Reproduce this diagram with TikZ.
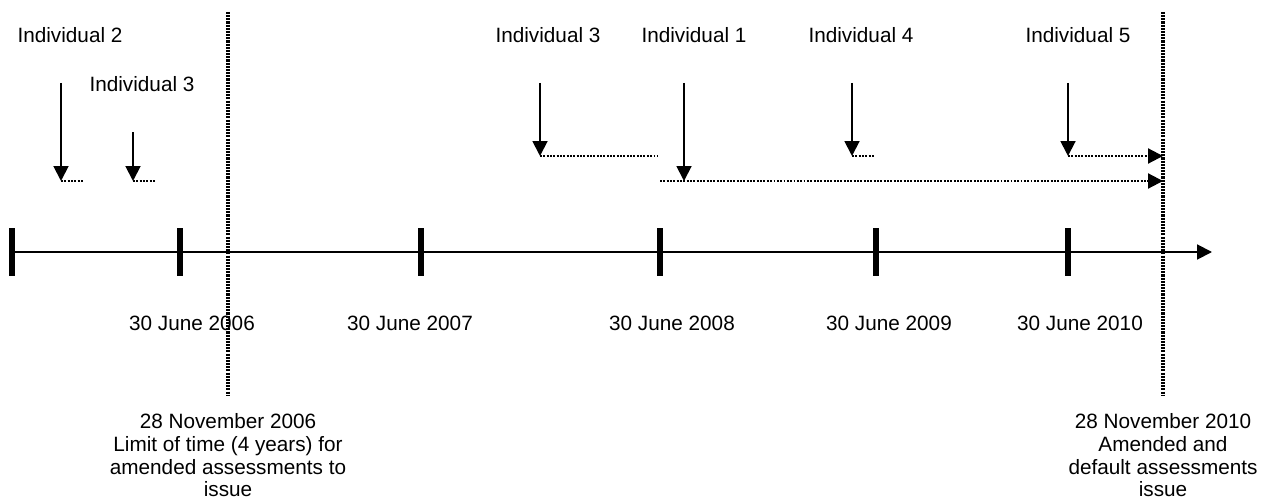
\documentclass[tikz,border=0pt]{standalone}
\usepackage{fontspec}
\setmainfont{Liberation Sans}
\usetikzlibrary{arrows.meta}

\begin{document}
\begin{tikzpicture}[x=0.02cm, y=-0.02cm,
        font=\fontsize{11.8}{13}\selectfont,
        yeartick/.style={line width=3.1pt},
        timeaxis/.style={line width=1.1pt, -{Triangle[width=8.5pt, length=8.5pt]}},
        limitline/.style={line width=1.8pt, dash pattern=on 1.2pt off 0.6pt},
        droparrow/.style={line width=1.1pt, -{Triangle[width=8.5pt, length=8.5pt]}},
        dotspan/.style={line width=1.2pt, dash pattern=on 1.1pt off 0.8pt},
        dotspanend/.style={dotspan, -{Triangle[width=8.5pt, length=8.5pt]}},
        note/.style={inner sep=0pt, align=center}]
        \useasboundingbox (0,0) rectangle (1277,500);

        % time axis
        \coordinate (axisstart) at (12,252);
        \coordinate (axisend) at (1212,252);
        \draw[timeaxis] (axisstart) -- (axisend);
        \foreach \x in {12,180,421,660,876,1068}
                \draw[yeartick] (\x,228) -- (\x,276);

        \draw (192,323) node [note] (y2006) {30 June 2006};
        \draw (410,323) node [note] (y2007) {30 June 2007};
        \draw (672,323) node [note] (y2008) {30 June 2008};
        \draw (889,323) node [note] (y2009) {30 June 2009};
        \draw (1080,323) node [note] (y2010) {30 June 2010};

        % time limits
        \coordinate (lim1top) at (228,12);
        \coordinate (lim1bot) at (228,396);
        \coordinate (lim2top) at (1163,12);
        \coordinate (lim2bot) at (1163,396);
        \draw[limitline] (lim1top) -- (lim1bot);
        \draw[limitline] (lim2top) -- (lim2bot);
        \draw (228,413) node [note, anchor=north] (lim1) {28 November 2006\\Limit of time (4 years) for\\amended assessments to\\issue};
        \draw (1163,413) node [note, anchor=north] (lim2) {28 November 2010\\Amended and\\default assessments\\issue};

        % individuals
        \draw (70,35) node [note] (ind2) {Individual 2};
        \draw (142,84) node [note] (ind3a) {Individual 3};
        \draw (548,35) node [note] (ind3b) {Individual 3};
        \draw (694,35) node [note] (ind1) {Individual 1};
        \draw (861,35) node [note] (ind4) {Individual 4};
        \draw (1078,35) node [note] (ind5) {Individual 5};

        \coordinate (i2top) at (61,83);    \coordinate (i2tip) at (61,181);   \coordinate (i2end) at (84,181);
        \coordinate (i3atop) at (133,132); \coordinate (i3atip) at (133,181); \coordinate (i3aend) at (156,181);
        \coordinate (i3btop) at (540,83);  \coordinate (i3btip) at (540,156); \coordinate (i3bend) at (658,156);
        \coordinate (i1top) at (684,83);   \coordinate (i1tip) at (684,181);
        \coordinate (i1start) at (660,181); \coordinate (i1end) at (1163,181);
        \coordinate (i4top) at (852,83);   \coordinate (i4tip) at (852,156);  \coordinate (i4end) at (875,156);
        \coordinate (i5top) at (1068,83);  \coordinate (i5tip) at (1068,156); \coordinate (i5end) at (1163,156);

        \draw[droparrow] (i2top) -- (i2tip);
        \draw[droparrow] (i3atop) -- (i3atip);
        \draw[droparrow] (i3btop) -- (i3btip);
        \draw[droparrow] (i1top) -- (i1tip);
        \draw[droparrow] (i4top) -- (i4tip);
        \draw[droparrow] (i5top) -- (i5tip);

        \draw[dotspan] (i2tip) -- (i2end);
        \draw[dotspan] (i3atip) -- (i3aend);
        \draw[dotspan] (i3btip) -- (i3bend);
        \draw[dotspanend] (i1start) -- (i1end);
        \draw[dotspan] (i4tip) -- (i4end);
        \draw[dotspanend] (i5tip) -- (i5end);
\end{tikzpicture}
\end{document}
